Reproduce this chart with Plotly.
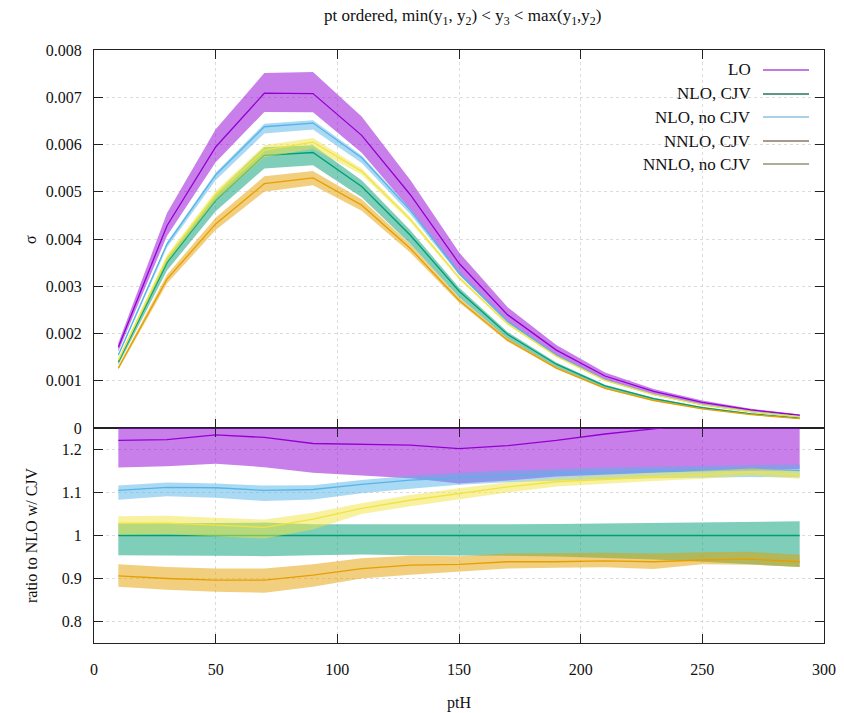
import plotly.graph_objects as go

# ---------------- data ----------------
pth = [10, 30, 50, 70, 90, 110, 130, 150, 170, 190, 210, 230, 250, 270, 290]

# NLO with CJV central cross section (reference for ratios)
nlo_cjv_sigma = [0.00140, 0.00350, 0.00482, 0.00577, 0.00583, 0.00511, 0.00408,
                 0.00290, 0.00198, 0.00135, 0.00089, 0.00062, 0.00043, 0.00030, 0.00021]

# ratios to NLO w/ CJV (central, low, high)
lo_ratio = [1.221, 1.223, 1.234, 1.228, 1.214, 1.212, 1.210, 1.202, 1.209, 1.221,
            1.236, 1.248, 1.262, 1.276, 1.287]
lo_ratio_low = [1.158, 1.161, 1.167, 1.159, 1.146, 1.140, 1.133, 1.121, 1.128, 1.137,
                1.142, 1.146, 1.149, 1.152, 1.154]
lo_ratio_high = [1.285, 1.300, 1.312, 1.302, 1.292, 1.290, 1.286, 1.282, 1.290, 1.302,
                 1.318, 1.332, 1.348, 1.362, 1.372]

nlo_cjv_ratio = [1.0, 1.0, 1.0, 1.0, 1.0, 1.0, 1.0, 1.0, 1.0, 1.0, 1.0, 1.0, 1.0, 1.0, 1.0]
nlo_cjv_ratio_low = [0.954, 0.953, 0.952, 0.952, 0.954, 0.956, 0.954, 0.954, 0.953, 0.951,
                     0.948, 0.944, 0.939, 0.933, 0.927]
nlo_cjv_ratio_high = [1.028, 1.029, 1.030, 1.030, 1.026, 1.026, 1.026, 1.025, 1.026, 1.027,
                      1.028, 1.029, 1.030, 1.032, 1.033]

nlo_nocjv_ratio = [1.105, 1.112, 1.111, 1.105, 1.107, 1.119, 1.129, 1.134, 1.140, 1.144,
                   1.147, 1.150, 1.152, 1.153, 1.151]
nlo_nocjv_ratio_low = [1.083, 1.091, 1.088, 1.080, 1.084, 1.098, 1.109, 1.118, 1.124, 1.128,
                       1.131, 1.133, 1.135, 1.136, 1.135]
nlo_nocjv_ratio_high = [1.116, 1.123, 1.121, 1.116, 1.117, 1.129, 1.139, 1.146, 1.151, 1.155,
                        1.158, 1.160, 1.162, 1.164, 1.165]

nnlo_cjv_ratio = [0.906, 0.900, 0.896, 0.896, 0.908, 0.923, 0.931, 0.933, 0.939, 0.939,
                  0.941, 0.939, 0.943, 0.945, 0.939]
nnlo_cjv_ratio_low = [0.881, 0.874, 0.869, 0.867, 0.881, 0.900, 0.909, 0.916, 0.923, 0.925,
                      0.926, 0.922, 0.933, 0.932, 0.927]
nnlo_cjv_ratio_high = [0.933, 0.927, 0.923, 0.923, 0.933, 0.947, 0.953, 0.952, 0.958, 0.959,
                       0.960, 0.958, 0.961, 0.962, 0.955]

nnlo_nocjv_ratio = [1.029, 1.029, 1.024, 1.019, 1.038, 1.063, 1.082, 1.098, 1.113, 1.125,
                    1.131, 1.136, 1.141, 1.148, 1.141]
nnlo_nocjv_ratio_low = [1.002, 1.003, 0.998, 0.993, 1.014, 1.050, 1.068, 1.084, 1.100, 1.114,
                        1.121, 1.127, 1.132, 1.139, 1.132]
nnlo_nocjv_ratio_high = [1.045, 1.046, 1.041, 1.037, 1.053, 1.075, 1.094, 1.110, 1.124, 1.134,
                         1.140, 1.145, 1.150, 1.156, 1.150]

series_names = ["LO", "NLO, CJV", "NLO, no CJV", "NNLO, CJV", "NNLO, no CJV"]
x_ticks = [0, 50, 100, 150, 200, 250, 300]
sigma_ticks = [0, 0.001, 0.002, 0.003, 0.004, 0.005, 0.006, 0.007, 0.008]
ratio_ticks = [0.8, 0.9, 1, 1.1, 1.2]

# ---------------- style ----------------
W, H = 844, 713
FONT = "Liberation Serif"
line_colors = ["#9400D3", "#009E73", "#56B4E9", "#E69F00", "#F0E442"]
fill_colors = ["rgba(148,0,211,0.5)", "rgba(0,158,115,0.5)", "rgba(86,180,233,0.5)",
               "rgba(230,159,0,0.5)", "rgba(240,228,66,0.5)"]
legend_colors = ["#c07ae0", "#5a9a85", "#a8d0e6", "#a89a88", "#a8b09a"]

ratios = [
    (lo_ratio, lo_ratio_low, lo_ratio_high),
    (nlo_cjv_ratio, nlo_cjv_ratio_low, nlo_cjv_ratio_high),
    (nlo_nocjv_ratio, nlo_nocjv_ratio_low, nlo_nocjv_ratio_high),
    (nnlo_cjv_ratio, nnlo_cjv_ratio_low, nnlo_cjv_ratio_high),
    (nnlo_nocjv_ratio, nnlo_nocjv_ratio_low, nnlo_nocjv_ratio_high),
]

fig = go.Figure()


def add_band(x, lo, hi, c, fill, lc, xa, ya):
    fig.add_trace(go.Scatter(x=x, y=hi, mode="lines", line=dict(width=0, color=lc),
                             showlegend=False, hoverinfo="skip", xaxis=xa, yaxis=ya))
    fig.add_trace(go.Scatter(x=x, y=lo, mode="lines", line=dict(width=0, color=lc),
                             fill="tonexty", fillcolor=fill, showlegend=False,
                             hoverinfo="skip", xaxis=xa, yaxis=ya))
    fig.add_trace(go.Scatter(x=x, y=c, mode="lines", line=dict(width=1.3, color=lc),
                             showlegend=False, xaxis=xa, yaxis=ya))


for i, (rc, rl, rh) in enumerate(ratios):
    sc = [r * s for r, s in zip(rc, nlo_cjv_sigma)]
    sl = [r * s for r, s in zip(rl, nlo_cjv_sigma)]
    sh = [r * s for r, s in zip(rh, nlo_cjv_sigma)]
    add_band(pth, sl, sh, sc, fill_colors[i], line_colors[i], "x", "y")
    add_band(pth, rl, rh, rc, fill_colors[i], line_colors[i], "x2", "y2")

xdom = [94 / W, 824 / W]
top_dom = [1 - 428 / H, 1 - 50 / H]
bot_dom = [1 - 643 / H, 1 - 428 / H]

axis_common = dict(showline=True, linecolor="#222", linewidth=1.2, mirror="ticks",
                   ticks="inside", ticklen=9, tickwidth=1.2, tickcolor="#222",
                   showgrid=True, gridcolor="#dcdcdc", griddash="dot", gridwidth=1,
                   zeroline=False, automargin=False,
                   tickfont=dict(family=FONT, size=16, color="#111"))

fig.update_layout(
    width=W, height=H,
    margin=dict(l=0, r=0, t=0, b=0),
    font=dict(family=FONT, size=16, color="#111"),
    paper_bgcolor="white", plot_bgcolor="white",
    showlegend=False,
    xaxis=dict(domain=xdom, range=[0, 300], tickvals=x_ticks, showticklabels=False,
               anchor="y", **axis_common),
    yaxis=dict(domain=top_dom, range=[0, 0.008], tickvals=sigma_ticks,
               ticktext=[("%g" % v) if v != 0 else "0" for v in sigma_ticks],
               anchor="x", ticklabelstandoff=8, **axis_common),
    xaxis2=dict(domain=xdom, range=[0, 300], tickvals=x_ticks, anchor="y2",
                ticklabelstandoff=12, **axis_common),
    yaxis2=dict(domain=bot_dom, range=[0.75, 1.25], tickvals=ratio_ticks,
                anchor="x2", ticklabelstandoff=8, **axis_common),
)

annots = [
    dict(text="pt ordered, min(y<sub>1</sub>, y<sub>2</sub>) &lt; y<sub>3</sub> &lt; max(y<sub>1</sub>,y<sub>2</sub>)",
         x=462 / W, y=1 - 17 / H, font=dict(size=17)),
    dict(text="σ", x=31 / W, y=1 - 239 / H, textangle=-90, font=dict(size=16)),
    dict(text="ratio to NLO w/ CJV", x=31 / W, y=1 - 535 / H, textangle=-90, font=dict(size=16)),
    dict(text="ptH", x=459 / W, y=1 - 703 / H, font=dict(size=16)),
]
for a in annots:
    a.update(xref="paper", yref="paper", showarrow=False, xanchor="center", yanchor="middle")
    a["font"].update(family=FONT, color="#111")
    fig.add_annotation(**a)

# key (text right-aligned, sample line on the right)
key_y = [70, 94, 117, 141, 164]
shapes = []
for name, col, ky in zip(series_names, legend_colors, key_y):
    fig.add_annotation(text=name, xref="paper", yref="paper", x=753 / W, y=1 - ky / H,
                       xanchor="right", yanchor="middle", showarrow=False,
                       font=dict(family=FONT, size=17, color="#111"))
    shapes.append(dict(type="line", xref="paper", yref="paper",
                       x0=763 / W, x1=809 / W, y0=1 - ky / H, y1=1 - ky / H,
                       line=dict(color=col, width=2)))
fig.update_layout(shapes=shapes)

fig.write_html("out.html")
